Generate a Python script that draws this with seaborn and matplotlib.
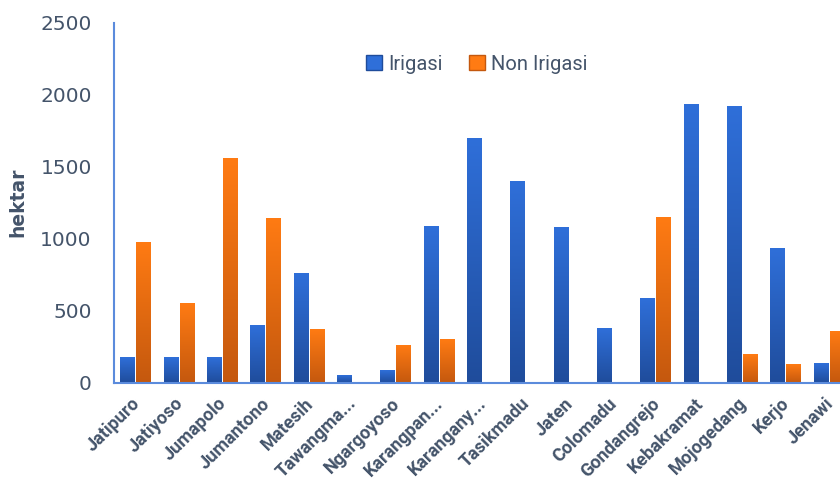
import numpy as np
import pandas as pd
import seaborn as sns
import matplotlib.pyplot as plt
from matplotlib.patches import Patch
from matplotlib.colors import LinearSegmentedColormap
import matplotlib.transforms as mtransforms

# data (hektar)
kecamatan = ['Jatipuro', 'Jatiyoso', 'Jumapolo', 'Jumantono', 'Matesih', 'Tawangma...',
             'Ngargoyoso', 'Karangpan...', 'Karangany...', 'Tasikmadu', 'Jaten', 'Colomadu',
             'Gondangrejo', 'Kebakramat', 'Mojogedang', 'Kerjo', 'Jenawi']
irigasi = [178, 178, 178, 400, 761, 53, 88, 1087, 1698, 1400, 1080, 380, 588, 1934, 1920, 935, 137]
non_irigasi = [976, 553, 1559, 1143, 373, 5, 262, 303, 5, 0, 5, 0, 1150, 5, 199, 130, 359]
series = ['Irigasi', 'Non Irigasi']

df = pd.DataFrame({'kecamatan': kecamatan * 2,
                   'jenis': [series[0]] * len(kecamatan) + [series[1]] * len(kecamatan),
                   'luas': irigasi + non_irigasi})

sns.set_style('white')
txt = '#44546A'
blue_top, blue_bot = '#2F6FD9', '#1F4C9B'
orng_top, orng_bot = '#FF7B13', '#C4580E'

fig = plt.figure(figsize=(8.4, 4.82), dpi=100)
ax = fig.add_axes([0.1357, 0.206, 0.877, 0.747])

sns.barplot(data=df, x='kecamatan', y='luas', hue='jenis', hue_order=series,
            palette=[blue_top, orng_top], width=0.75, gap=0.1, legend=False, ax=ax)

# vertical gradient fill for each bar
cmaps = [LinearSegmentedColormap.from_list('b', [blue_bot, blue_top]),
         LinearSegmentedColormap.from_list('o', [orng_bot, orng_top])]
grad = np.linspace(0, 1, 256).reshape(-1, 1)
for i, p in enumerate(list(ax.patches)):
    cm = cmaps[0] if i < len(kecamatan) else cmaps[1]
    x0, y0 = p.get_x(), p.get_y()
    w, h = p.get_width(), p.get_height()
    if h <= 0:
        continue
    im = ax.imshow(grad, extent=[x0, x0 + w, y0, y0 + h], origin='lower',
                   aspect='auto', cmap=cm, zorder=2)
    im.set_clip_path(p)
    p.set_facecolor('none')
    p.set_edgecolor('none')

ax.set_xlim(-0.5, len(kecamatan) - 0.5)
ax.set_ylim(0, 2500)
ax.set_yticks(range(0, 2501, 500))

for s in ['top', 'right']:
    ax.spines[s].set_visible(False)
for s in ['left', 'bottom']:
    ax.spines[s].set_color('#5B8BDC')
    ax.spines[s].set_linewidth(1.5)

ax.tick_params(axis='y', length=0, pad=16, labelsize=14.5, labelcolor=txt)
ax.tick_params(axis='x', length=0, pad=13)
ax.set_xlabel('')
ax.set_ylabel('hektar', fontsize=13.5, fontweight='bold', color=txt, labelpad=9)

offset = mtransforms.ScaledTranslation(1 / 72, 0, fig.dpi_scale_trans)
for lab in ax.get_xticklabels():
    lab.set_rotation(45)
    lab.set_ha('right')
    lab.set_va('center')
    lab.set_rotation_mode('anchor')
    lab.set_fontsize(13)
    lab.set_fontweight('bold')
    lab.set_family('Roboto')
    lab.set_color(txt)
    lab.set_transform(lab.get_transform() + offset)

handles = [Patch(facecolor=blue_top, edgecolor=blue_bot),
           Patch(facecolor=orng_top, edgecolor=orng_bot)]
ax.legend(handles, series, loc='center', bbox_to_anchor=(0.4925, 0.885),
          ncol=2, frameon=False, handlelength=0.8, handleheight=0.8,
          handletextpad=0.3, columnspacing=1.3,
          prop={'family': 'Roboto', 'size': 14.5},
          labelcolor=txt)

fig.savefig('out.png', dpi=100)
